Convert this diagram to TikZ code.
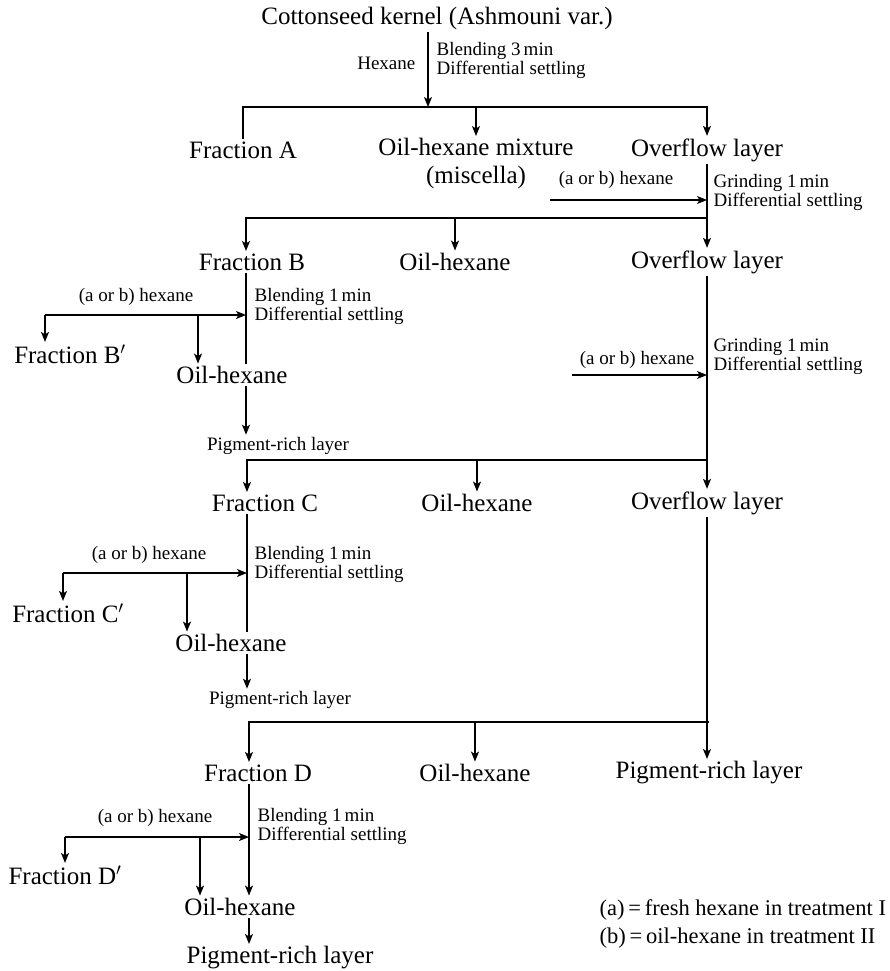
\documentclass[tikz,border=0pt]{standalone}
\usepackage{fontspec}
\setmainfont{Liberation Serif}
\usetikzlibrary{arrows.meta}

\begin{document}
\begin{tikzpicture}[x=1pt,y=-1pt,line width=1.3pt,
  every node/.style={inner sep=2pt},
  big/.style={font=\fontsize{25}{28}\selectfont},
  small/.style={font=\fontsize{19}{19}\selectfont},
  note/.style={small,anchor=west,align=left},
  legend/.style={font=\fontsize{22.5}{26}\selectfont,anchor=west},
  arr/.style={-{Stealth[length=10pt,width=8pt,inset=2.5pt]}}]
\useasboundingbox (0,0) rectangle (889,971);

\node[big] (title) at (437,18) {Cottonseed kernel (Ashmouni var.)};
\node[small,anchor=east] (hex) at (418,63) {Hexane};
\node[note] (blendA) at (434,60) {Blending 3\,min\\Differential settling};
\coordinate (jA) at (428,107);
\draw[arr] (title.south -| jA) -- (jA);

\node[big] (fA) at (243,150) {Fraction A};
\node[big,anchor=north,align=center] (mixA) at (476,136) {Oil-hexane mixture\\(miscella)};
\node[big] (ovA) at (707,150) {Overflow layer};
\draw[arr] (fA.north) |- (jA) -| (ovA.north);
\draw[arr] (jA -| mixA.north) -- (mixA.north);

\node[small,anchor=east] (abA) at (676,180) {(a or b) hexane};
\node[note] (grA) at (711,192) {Grinding 1\,min\\Differential settling};
\coordinate (inA) at (550,200);
\draw[arr] (inA) -- (inA -| ovA);

\coordinate (cB) at (246,0);
\coordinate (jB) at (707,218);
\node[big] (fB) at (252,262) {Fraction B};
\node[big] (ohB) at (455,262) {Oil-hexane};
\node[big] (ovB) at (707,262) {Overflow layer};
\draw[arr] (ovA) -- (ovB);
\draw[arr] (jB) -| (cB |- fB.north);
\draw[arr] (jB -| ohB.north) -- (ohB.north);

\node[small] (abB) at (136,297) {(a or b) hexane};
\node[note] (blB) at (252,306) {Blending 1\,min\\Differential settling};
\node[big] (fB1) at (70,354) {Fraction B$'$};
\node[big] (ohB1) at (232,375) {Oil-hexane};
\node[small] (prB) at (278,446) {Pigment-rich layer};
\coordinate (lB) at (45,315);
\coordinate (mB) at (198,315);
\draw[arr] (lB) -- (cB |- lB);
\draw[arr] (lB) -- (lB |- fB1.north);
\draw[arr] (mB) -- (mB |- ohB1.north);
\draw (cB |- fB.south) -- (cB |- ohB1.north);
\draw[arr] (cB |- ohB1.south) -- (cB |- prB.north);

\node[small,anchor=east] (abB2) at (697,360) {(a or b) hexane};
\node[note] (grB) at (711,356) {Grinding 1\,min\\Differential settling};
\coordinate (inB) at (572,375);
\draw[arr] (inB) -- (inB -| ovB);

\coordinate (cC) at (247,0);
\coordinate (jC) at (707,460);
\node[big] (fC) at (265,503) {Fraction C};
\node[big] (ohC) at (477,503) {Oil-hexane};
\node[big] (ovC) at (707,503) {Overflow layer};
\draw[arr] (ovB) -- (ovC);
\draw[arr] (jC) -| (cC |- fC.north);
\draw[arr] (jC -| ohC.north) -- (ohC.north);

\node[small] (abC) at (149,555) {(a or b) hexane};
\node[note] (blC) at (252,564) {Blending 1\,min\\Differential settling};
\node[big] (fC1) at (68,613) {Fraction C$'$};
\node[big] (ohC1) at (231,643) {Oil-hexane};
\node[small] (prC) at (280,700) {Pigment-rich layer};
\coordinate (lC) at (63,573);
\coordinate (mC) at (187,573);
\draw[arr] (lC) -- (cC |- lC);
\draw[arr] (lC) -- (lC |- fC1.north);
\draw[arr] (mC) -- (mC |- ohC1.north);
\draw (cC |- fC.south) -- (cC |- ohC1.north);
\draw[arr] (cC |- ohC1.south) -- (cC |- prC.north);

\coordinate (cD) at (249,0);
\coordinate (jD) at (709,722);
\node[big] (fD) at (258,773) {Fraction D};
\node[big] (ohD) at (475,773) {Oil-hexane};
\node[big] (prR) at (709,773) {Pigment-rich layer};
\draw[arr] (ovC) -- (ovC |- prR.north);
\draw[arr] (jD) -| (cD |- fD.north);
\draw[arr] (jD -| ohD.north) -- (ohD.north);

\node[small] (abD) at (155,818) {(a or b) hexane};
\node[note] (blD) at (255,826) {Blending 1\,min\\Differential settling};
\node[big] (fD1) at (65,875) {Fraction D$'$};
\node[big] (ohD1) at (240,907) {Oil-hexane};
\node[big] (prD) at (280,958) {Pigment-rich layer};
\coordinate (lD) at (65,837);
\coordinate (mD) at (200,837);
\draw[arr] (lD) -- (cD |- lD);
\draw[arr] (lD) -- (lD |- fD1.north);
\draw[arr] (mD) -- (mD |- ohD1.north);
\draw[arr] (cD |- fD.south) -- (cD |- ohD1.north);
\draw[arr] (cD |- ohD1.south) -- (cD |- prD.north);

\node[legend] (legA) at (597,910) {(a)\,=\,fresh hexane in treatment I};
\node[legend] (legB) at (597,938) {(b)\,=\,oil-hexane in treatment II};
\end{tikzpicture}
\end{document}
